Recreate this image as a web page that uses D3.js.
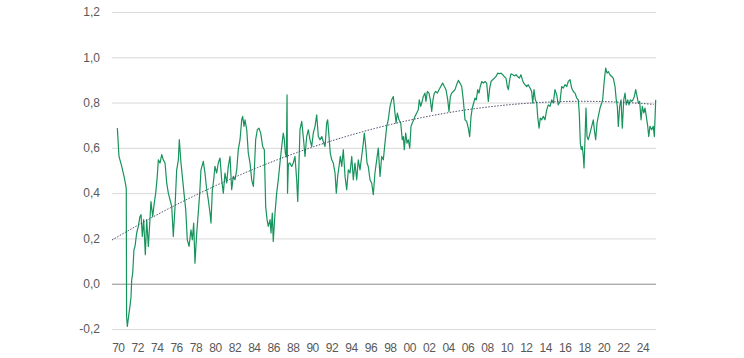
<!DOCTYPE html>
<html>
<head>
<meta charset="utf-8">
<script src="https://cdn.jsdelivr.net/npm/d3@7"></script>
<style>
  body { margin: 0; background: #fff; }
  svg { display: block; font-family: "Liberation Sans", Arial, sans-serif; }
</style>
</head>
<body>
<svg id="chart"></svg>
<script>
var width = 744;
var height = 358;

// decimal years and values
var years = [
  1970.55, 1970.72, 1971.00, 1971.24, 1971.44, 1971.47, 1971.50, 1971.58, 1971.75, 1971.85,
  1971.96, 1972.03, 1972.13, 1972.26, 1972.37, 1972.54, 1972.71, 1972.88, 1972.99, 1973.12,
  1973.26, 1973.43, 1973.57, 1973.74, 1973.91, 1974.01, 1974.19, 1974.35, 1974.50, 1974.66,
  1974.77, 1974.94, 1975.12, 1975.28, 1975.46, 1975.63, 1975.80, 1975.97, 1976.15, 1976.31,
  1976.49, 1976.66, 1976.83, 1976.93, 1977.10, 1977.24, 1977.41, 1977.59, 1977.75, 1977.93,
  1978.13, 1978.27, 1978.41, 1978.54, 1978.72, 1978.88, 1979.03, 1979.16, 1979.40, 1979.57,
  1979.75, 1979.91, 1980.09, 1980.19, 1980.33, 1980.47, 1980.60, 1980.78, 1980.94, 1981.12,
  1981.29, 1981.46, 1981.63, 1981.81, 1981.97, 1982.15, 1982.32, 1982.49, 1982.66, 1982.84,
  1983.00, 1983.18, 1983.35, 1983.45, 1983.59, 1983.69, 1983.87, 1984.03, 1984.21, 1984.38,
  1984.55, 1984.65, 1984.79, 1984.96, 1985.13, 1985.31, 1985.51, 1985.68, 1985.82, 1985.96,
  1986.09, 1986.27, 1986.37, 1986.50, 1986.60, 1986.78, 1986.95, 1987.12, 1987.29, 1987.47,
  1987.63, 1987.74, 1987.84, 1987.95, 1988.02, 1988.07, 1988.15, 1988.22, 1988.32, 1988.50,
  1988.66, 1988.84, 1989.01, 1989.12, 1989.25, 1989.35, 1989.53, 1989.69, 1989.87, 1990.04,
  1990.21, 1990.38, 1990.56, 1990.72, 1990.90, 1991.07, 1991.24, 1991.41, 1991.59, 1991.75,
  1991.93, 1992.10, 1992.20, 1992.34, 1992.47, 1992.62, 1992.78, 1992.96, 1993.09, 1993.23,
  1993.37, 1993.50, 1993.65, 1993.81, 1993.99, 1994.16, 1994.33, 1994.50, 1994.68, 1994.84,
  1995.01, 1995.19, 1995.35, 1995.53, 1995.70, 1995.87, 1995.97, 1996.12, 1996.25, 1996.38,
  1996.56, 1996.73, 1996.90, 1997.07, 1997.25, 1997.41, 1997.59, 1997.76, 1997.93, 1998.10,
  1998.28, 1998.44, 1998.62, 1998.79, 1998.96, 1999.13, 1999.24, 1999.37, 1999.54, 1999.72,
  1999.88, 1999.99, 2000.09, 2000.23, 2000.37, 2000.50, 2000.65, 2000.78, 2000.91, 2001.06,
  2001.19, 2001.37, 2001.53, 2001.63, 2001.78, 2001.88, 2002.05, 2002.22, 2002.32, 2002.46,
  2002.63, 2002.77, 2002.91, 2003.04, 2003.18, 2003.32, 2003.49, 2003.66, 2003.84, 2004.04,
  2004.21, 2004.38, 2004.56, 2004.69, 2004.83, 2004.97, 2005.13, 2005.31, 2005.48, 2005.65,
  2005.82, 2006.00, 2006.16, 2006.34, 2006.51, 2006.68, 2006.82, 2006.96, 2007.09, 2007.23,
  2007.37, 2007.50, 2007.65, 2007.78, 2007.91, 2008.06, 2008.22, 2008.40, 2008.57, 2008.74,
  2008.88, 2009.02, 2009.19, 2009.36, 2009.53, 2009.71, 2009.87, 2010.05, 2010.22, 2010.38,
  2010.56, 2010.69, 2010.80, 2010.94, 2011.07, 2011.25, 2011.41, 2011.59, 2011.76, 2011.93,
  2012.10, 2012.24, 2012.38, 2012.51, 2012.69, 2012.85, 2013.03, 2013.20, 2013.31, 2013.44,
  2013.58, 2013.72, 2013.82, 2013.96, 2014.09, 2014.23, 2014.40, 2014.57, 2014.75, 2014.91,
  2015.09, 2015.26, 2015.43, 2015.60, 2015.78, 2015.94, 2016.12, 2016.29, 2016.46, 2016.63,
  2016.81, 2016.97, 2017.15, 2017.32, 2017.49, 2017.66, 2017.84, 2018.00, 2018.10, 2018.21,
  2018.31, 2018.41, 2018.52, 2018.59, 2018.69, 2018.79, 2018.90, 2019.03, 2019.21, 2019.38,
  2019.55, 2019.65, 2019.79, 2019.93, 2020.06, 2020.24, 2020.41, 2020.51, 2020.62, 2020.72,
  2020.82, 2020.96, 2021.09, 2021.26, 2021.44, 2021.60, 2021.78, 2021.91, 2022.02, 2022.12,
  2022.26, 2022.40, 2022.53, 2022.68, 2022.81, 2022.94, 2023.09, 2023.22, 2023.36, 2023.50,
  2023.63, 2023.77, 2023.91, 2024.05, 2024.18, 2024.32, 2024.46, 2024.59, 2024.74, 2024.87,
  2025.00, 2025.15, 2025.25, 2025.38, 2025.56, 2025.72, 2025.83, 2025.97
];
var values = [
  0.687, 0.562, 0.518, 0.474, 0.430, 0.415, -0.144, -0.189, -0.130, -0.100,
  -0.056, 0.018, 0.047, 0.150, 0.165, 0.224, 0.253, 0.297, 0.305, 0.209,
  0.283, 0.128, 0.283, 0.165, 0.283, 0.363, 0.297, 0.356, 0.400, 0.474,
  0.547, 0.533, 0.570, 0.547, 0.533, 0.445, 0.400, 0.371, 0.341, 0.209,
  0.341, 0.503, 0.547, 0.636, 0.533, 0.474, 0.400, 0.327, 0.194, 0.165,
  0.238, 0.194, 0.268, 0.091, 0.224, 0.312, 0.400, 0.503, 0.540, 0.489,
  0.415, 0.371, 0.312, 0.268, 0.415, 0.459, 0.518, 0.489, 0.533, 0.555,
  0.459, 0.400, 0.489, 0.445, 0.518, 0.562, 0.415, 0.474, 0.459, 0.503,
  0.592, 0.636, 0.724, 0.739, 0.695, 0.724, 0.680, 0.577, 0.533, 0.459,
  0.430, 0.503, 0.636, 0.680, 0.687, 0.665, 0.606, 0.592, 0.341, 0.283,
  0.253, 0.283, 0.224, 0.312, 0.187, 0.312, 0.400, 0.459, 0.533, 0.606,
  0.665, 0.636, 0.577, 0.560, 0.834, 0.400, 0.520, 0.533, 0.533, 0.518,
  0.533, 0.562, 0.459, 0.363, 0.533, 0.680, 0.717, 0.650, 0.562, 0.650,
  0.680, 0.636, 0.606, 0.665, 0.695, 0.746, 0.650, 0.636, 0.650, 0.628,
  0.606, 0.710, 0.724, 0.650, 0.577, 0.547, 0.533, 0.489, 0.400, 0.474,
  0.518, 0.562, 0.518, 0.592, 0.474, 0.415, 0.503, 0.489, 0.562, 0.459,
  0.533, 0.459, 0.547, 0.503, 0.562, 0.621, 0.665, 0.606, 0.533, 0.518,
  0.459, 0.445, 0.393, 0.490, 0.547, 0.599, 0.474, 0.562, 0.547, 0.621,
  0.695, 0.724, 0.783, 0.812, 0.827, 0.754, 0.710, 0.754, 0.724, 0.710,
  0.636, 0.650, 0.592, 0.665, 0.621, 0.636, 0.599, 0.695, 0.710, 0.724,
  0.739, 0.754, 0.768, 0.812, 0.783, 0.798, 0.827, 0.842, 0.805, 0.849,
  0.842, 0.812, 0.761, 0.812, 0.842, 0.849, 0.842, 0.857, 0.871, 0.886,
  0.871, 0.857, 0.812, 0.761, 0.827, 0.842, 0.849, 0.857, 0.879, 0.898,
  0.886, 0.871, 0.812, 0.724, 0.717, 0.687, 0.650, 0.739, 0.776, 0.798,
  0.820, 0.812, 0.857, 0.842, 0.871, 0.893, 0.886, 0.893, 0.886, 0.805,
  0.864, 0.893, 0.901, 0.908, 0.915, 0.930, 0.927, 0.930, 0.923, 0.915,
  0.908, 0.871, 0.857, 0.901, 0.927, 0.923, 0.918, 0.923, 0.915, 0.908,
  0.923, 0.901, 0.886, 0.879, 0.871, 0.879, 0.864, 0.849, 0.798, 0.857,
  0.812, 0.798, 0.739, 0.687, 0.731, 0.724, 0.739, 0.724, 0.768, 0.790,
  0.783, 0.812, 0.798, 0.857, 0.834, 0.790, 0.805, 0.871, 0.864, 0.879,
  0.871, 0.893, 0.901, 0.864, 0.849, 0.842, 0.820, 0.812, 0.754, 0.621,
  0.592, 0.606, 0.562, 0.511, 0.636, 0.776, 0.650, 0.636, 0.665, 0.695,
  0.724, 0.680, 0.636, 0.710, 0.739, 0.776, 0.798, 0.812, 0.871, 0.915,
  0.952, 0.930, 0.937, 0.923, 0.915, 0.908, 0.871, 0.812, 0.783, 0.695,
  0.783, 0.812, 0.687, 0.812, 0.842, 0.790, 0.812, 0.790, 0.812, 0.805,
  0.812, 0.827, 0.857, 0.827, 0.798, 0.805, 0.724, 0.783, 0.754, 0.776,
  0.739, 0.695, 0.650, 0.695, 0.680, 0.695, 0.650, 0.812
];

var yTicks = [-0.2, 0, 0.2, 0.4, 0.6, 0.8, 1.0, 1.2];
var xTickYears = d3.range(1970, 2025, 2);

var data = years.map((d, i) => ({year: d, value: values[i]}));

var plotLeft = 112, plotRight = 656, plotTop = 12, plotBottom = 329;

var xScale = d3.scaleLinear()
                .domain([1970, 2026])
                .range([plotLeft, plotRight]);
var yScale = d3.scaleLinear()
                .domain([-0.2, 1.2])
                .range([plotBottom, plotTop]);

var locale = d3.formatLocale({decimal: ",", thousands: ".", grouping: [3], currency: ["", " €"], minus: "-"});

var svg = d3.select("#chart")
    .attr("width", width)
    .attr("height", height);

// horizontal gridlines + y labels
var yAxis = d3.axisLeft(yScale)
                .tickValues(yTicks)
                .tickSize(-(plotRight - plotLeft))
                .tickPadding(12)
                .tickFormat(locale.format(".1f"));

var gy = svg.append("g")
    .attr("transform", "translate(" + plotLeft + ",0)")
    .call(yAxis);
gy.select(".domain").remove();
gy.selectAll(".tick line")
    .attr("stroke", d => d === 0 ? "#8c8c8c" : "#d9d9d9")
    .attr("stroke-width", 1);
gy.selectAll(".tick text")
    .attr("fill", "#595959")
    .style("font-size", "12px");

// year labels, centred a little into each year
var xAxis = d3.axisBottom(xScale)
                .tickValues(xTickYears.map(y => y + 0.6))
                .tickSize(0)
                .tickPadding(14)
                .tickFormat(d => String(Math.floor(d) % 100).padStart(2, "0"));

var gx = svg.append("g")
    .attr("transform", "translate(0," + plotBottom + ")")
    .call(xAxis);
gx.select(".domain").remove();
gx.selectAll(".tick text")
    .attr("fill", "#595959")
    .style("font-size", "12px")
    .style("letter-spacing", "-0.5px");

// the series
var line = d3.line()
    .x(d => xScale(d.year))
    .y(d => yScale(d.value));

svg.append("path")
    .datum(data)
    .attr("fill", "none")
    .attr("stroke", "#17935c")
    .attr("stroke-width", 1.2)
    .attr("stroke-linejoin", "round")
    .attr("d", line);

// 2nd order polynomial trendline, least squares on the data
function polyFit(xs, ys) {
    var s = [0, 0, 0, 0, 0], t = [0, 0, 0];
    xs.forEach((x, i) => {
        var p = 1;
        for (var k = 0; k < 5; k++) { s[k] += p; if (k < 3) t[k] += p * ys[i]; p *= x; }
    });
    var m = [[s[0], s[1], s[2], t[0]], [s[1], s[2], s[3], t[1]], [s[2], s[3], s[4], t[2]]];
    for (var c = 0; c < 3; c++) {
        for (var r = c + 1; r < 3; r++) {
            var f = m[r][c] / m[c][c];
            for (var j = c; j < 4; j++) m[r][j] -= f * m[c][j];
        }
    }
    var b = [0, 0, 0];
    for (var r2 = 2; r2 >= 0; r2--) {
        var acc = m[r2][3];
        for (var j2 = r2 + 1; j2 < 3; j2++) acc -= m[r2][j2] * b[j2];
        b[r2] = acc / m[r2][r2];
    }
    return b;
}

var tx = years.map(y => y - 1970);
var coef = polyFit(tx, values);
var trend = d3.range(1970, d3.max(years) + 0.01, 0.25)
    .map(y => ({year: y, value: coef[0] + coef[1] * (y - 1970) + coef[2] * (y - 1970) * (y - 1970)}));

svg.append("path")
    .datum(trend)
    .attr("fill", "none")
    .attr("stroke", "#4a4a68")
    .attr("stroke-width", 1)
    .attr("stroke-dasharray", "1.5,1.5")
    .attr("d", line);
</script>
</body>
</html>
